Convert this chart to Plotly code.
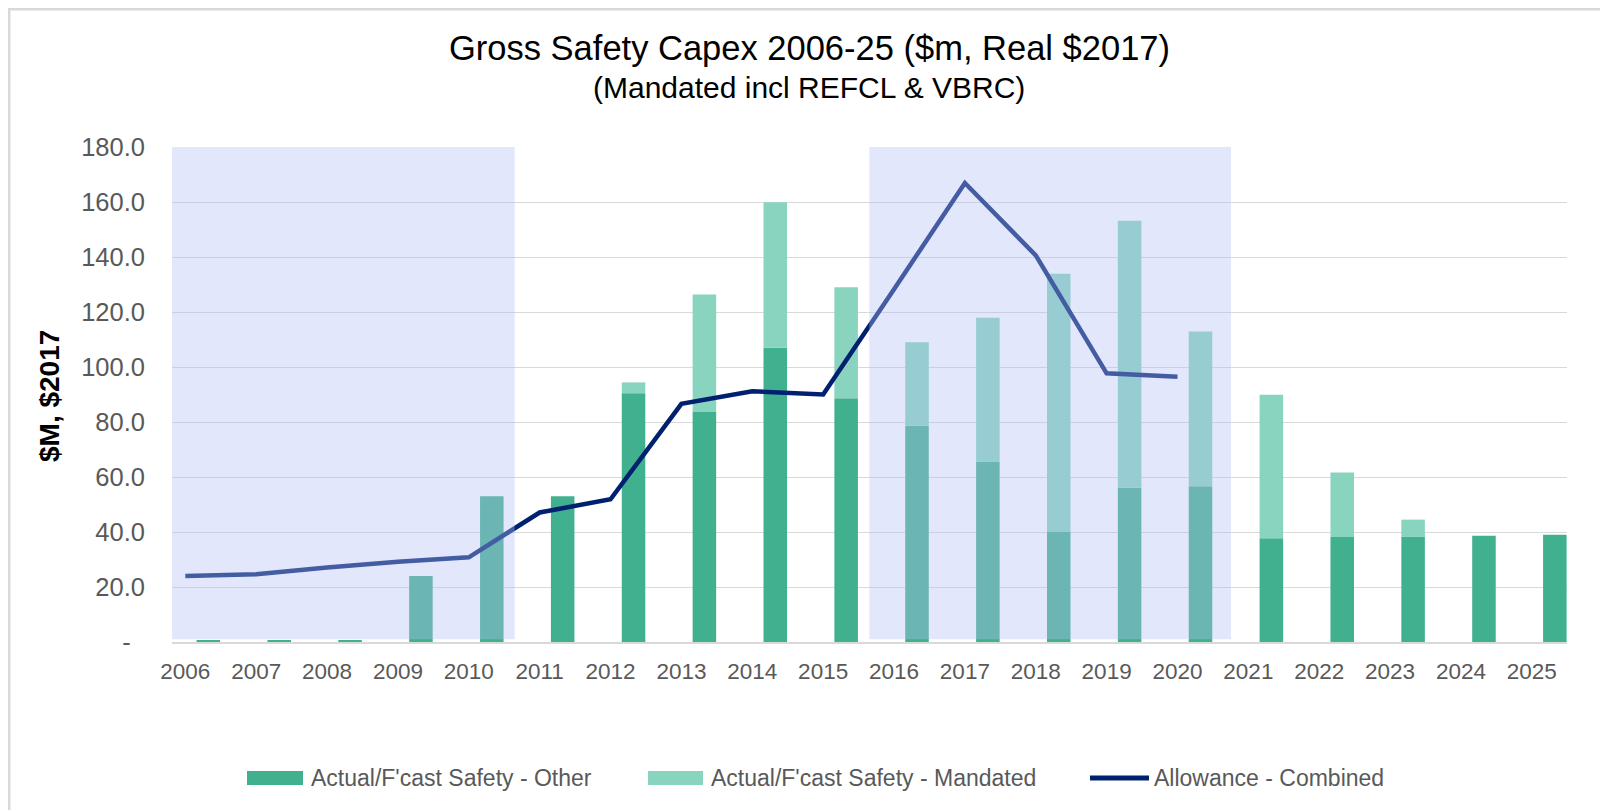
import plotly.graph_objects as go

# ---------------- data ----------------
years = list(range(2006, 2026))
other = [0.6, 0.6, 0.6, 24.0, 53.0, 53.0, 90.5, 83.6, 107.0, 88.6,
         78.6, 65.6, 40.0, 56.1, 56.6, 37.7, 38.2, 38.2, 38.6, 39.0]
mandated = [0, 0, 0, 0, 0, 0, 3.9, 42.8, 52.9, 40.4,
            30.4, 52.3, 93.9, 97.1, 56.3, 52.2, 23.4, 6.3, 0, 0]
allow_years = list(range(2006, 2021))
allowance = [24.0, 24.6, 27.1, 29.2, 30.8, 47.1, 51.9, 86.6, 91.2, 90.0,
             128.3, 166.9, 140.6, 97.7, 96.5]
ytick_vals = list(range(0, 181, 20))
ytick_text = ["-\u00a0\u00a0"] + [f"{v:.1f}" for v in ytick_vals[1:]]

name_other = "Actual/F'cast Safety - Other"
name_mand = "Actual/F'cast Safety - Mandated"
name_allow = "Allowance - Combined"
title_main = "Gross Safety Capex 2006-25 ($m, Real $2017)"
title_sub = "(Mandated incl REFCL & VBRC)"
y_title = "$M, $2017"

# ---------------- style ----------------
C_OTHER = "#40B08E"
C_MAND = "#88D4BE"
C_ALLOW = "#002070"
SHADE = "rgba(180,192,245,0.38)"
GRID = "#D9D9D9"
TXT = "#595959"
FONT = "Liberation Sans, Arial, sans-serif"

OFF = 8  # page body margin
W, H = 1608 - OFF, 810 - OFF
ML, MT = 172 - OFF, 147 - OFF
MR = W - (1567 - OFF)
MB = H - (642 - OFF)
PW = W - ML - MR
PH = H - MT - MB


def px(x):  # page pixel x -> paper
    return (x - OFF - ML) / PW


def py(y):  # page pixel y -> paper
    return (H - MB - (y - OFF)) / PH


fig = go.Figure()
fig.add_trace(go.Bar(x=years, y=other, name=name_other, marker=dict(color=C_OTHER, line=dict(width=0)),
                     offset=0.1585, width=0.332, showlegend=False))
fig.add_trace(go.Bar(x=years, y=mandated, base=other, name=name_mand,
                     marker=dict(color=C_MAND, line=dict(width=0)),
                     offset=0.1585, width=0.332, showlegend=False))
fig.add_trace(go.Scatter(x=allow_years, y=allowance, name=name_allow, mode="lines",
                         line=dict(color=C_ALLOW, width=4.5), showlegend=False))

shapes = []
# shaded regulatory periods
for x0, x1 in [(2005.764, 2010.647), (2015.651, 2020.755)]:
    shapes.append(dict(type="rect", xref="x", yref="y", x0=x0, x1=x1, y0=1.0, y1=180,
                       fillcolor=SHADE, line=dict(width=0), layer="above"))
# chart border (top and left edges)
shapes.append(dict(type="line", xref="paper", yref="paper",
                   x0=px(OFF), x1=px(1640), y0=py(OFF + 1.2), y1=py(OFF + 1.2),
                   line=dict(color=GRID, width=2.5), layer="below"))
shapes.append(dict(type="line", xref="paper", yref="paper",
                   x0=px(OFF + 1.2), x1=px(OFF + 1.2), y0=py(OFF), y1=py(830),
                   line=dict(color=GRID, width=2.5), layer="below"))
# custom legend
ly = 778
shapes.append(dict(type="rect", xref="paper", yref="paper", x0=px(247), x1=px(303),
                   y0=py(ly + 7), y1=py(ly - 7), fillcolor=C_OTHER, line=dict(width=0)))
shapes.append(dict(type="rect", xref="paper", yref="paper", x0=px(648), x1=px(703),
                   y0=py(ly + 7), y1=py(ly - 7), fillcolor=C_MAND, line=dict(width=0)))
shapes.append(dict(type="line", xref="paper", yref="paper", x0=px(1090), x1=px(1149),
                   y0=py(ly), y1=py(ly), line=dict(color=C_ALLOW, width=5)))

annotations = [
    dict(text=title_main, xref="paper", yref="paper", x=px(809), y=py(48), showarrow=False,
         xanchor="center", yanchor="middle", font=dict(size=34.5, color="#000000", family=FONT)),
    dict(text=title_sub, xref="paper", yref="paper", x=px(809), y=py(87), showarrow=False,
         xanchor="center", yanchor="middle", font=dict(size=30, color="#000000", family=FONT)),
    dict(text="<b>" + y_title + "</b>", xref="paper", yref="paper", x=px(49), y=py(396),
         showarrow=False, textangle=-90, xanchor="center", yanchor="middle",
         font=dict(size=28, color="#000000", family=FONT)),
    dict(text=name_other, xref="paper", yref="paper", x=px(309), y=py(ly), showarrow=False,
         xanchor="left", yanchor="middle", font=dict(size=23, color=TXT, family=FONT)),
    dict(text=name_mand, xref="paper", yref="paper", x=px(709), y=py(ly), showarrow=False,
         xanchor="left", yanchor="middle", font=dict(size=23, color=TXT, family=FONT)),
    dict(text=name_allow, xref="paper", yref="paper", x=px(1152), y=py(ly), showarrow=False,
         xanchor="left", yanchor="middle", font=dict(size=23, color=TXT, family=FONT)),
]

fig.update_layout(
    template="none",
    width=W, height=H,
    margin=dict(l=ML, r=MR, t=MT, b=MB, pad=0),
    paper_bgcolor="white", plot_bgcolor="white",
    barmode="overlay",
    showlegend=False,
    shapes=shapes,
    annotations=annotations,
    font=dict(family=FONT, color=TXT),
)
fig.update_xaxes(type="linear", range=[2005.812, 2025.496], tickvals=years,
                 ticktext=[str(y) for y in years], showgrid=False, zeroline=False,
                 showline=True, linecolor=GRID, linewidth=2, ticks="",
                 tickfont=dict(size=22.5, color=TXT, family=FONT), ticklabelstandoff=8)
fig.update_yaxes(range=[0, 180], tickvals=ytick_vals, ticktext=ytick_text,
                 showgrid=True, gridcolor=GRID, gridwidth=1, zeroline=False, showline=False,
                 ticks="", tickfont=dict(size=25.5, color=TXT, family=FONT), ticklabelstandoff=26)

fig.write_html("out.html")
